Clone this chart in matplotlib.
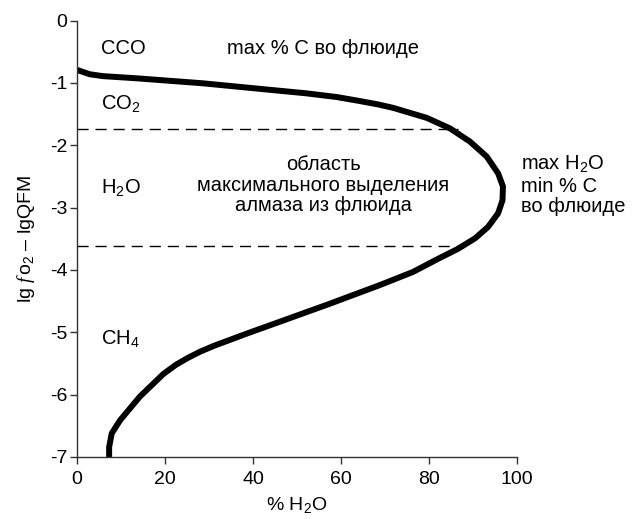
import numpy as np
import matplotlib
matplotlib.use("Agg")
import matplotlib.pyplot as plt

plt.rcParams['font.family'] = ['Liberation Sans', 'DejaVu Sans']
plt.rcParams['mathtext.fontset'] = 'custom'
plt.rcParams['mathtext.rm'] = 'Liberation Sans'
plt.rcParams['mathtext.it'] = 'Liberation Serif:italic'
plt.rcParams['mathtext.default'] = 'rm'

# кривая: % H2O против lg fO2 - lgQFM (точки)
h2o = [0, 2.9, 5.9, 13.6, 28.6, 43.9, 52, 59, 64.3, 68.5, 71.9, 79.5, 84.8, 89.3, 93.1,
       95.7, 96.8, 96.7, 95.7, 93.4, 90.5, 86.6, 81.8, 76.4, 68.9, 57.5, 46.1, 38.6, 31,
       28, 25.2, 22.5, 19.6, 14.3, 9.8, 7.9, 7.3, 7.3]
lgfo2 = [-0.79, -0.86, -0.89, -0.925, -1.005, -1.11, -1.165, -1.225, -1.29, -1.345, -1.40,
         -1.56, -1.73, -1.94, -2.18, -2.45, -2.66, -2.88, -3.09, -3.31, -3.49, -3.66, -3.83,
         -4.03, -4.24, -4.54, -4.83, -5.02, -5.22, -5.31, -5.41, -5.52, -5.67, -6.03, -6.41,
         -6.62, -6.84, -7.0]

# пунктирные границы области
dash_y = [-1.74, -3.62]
dash_x_end = [86.5, 87.8]

xticks = [0, 20, 40, 60, 80, 100]
yticks = [0, -1, -2, -3, -4, -5, -6, -7]

fig = plt.figure(figsize=(6.38, 5.19), dpi=100)
ax = fig.add_axes([0.1207, 0.1195, 0.6897, 0.8407])

ax.plot(h2o, lgfo2, color='black', lw=4.3, solid_capstyle='butt', solid_joinstyle='round')
for y, xe in zip(dash_y, dash_x_end):
    ax.plot([0, xe], [y, y], color='black', lw=1.0, dashes=(8, 5))

ax.set_xlim(0, 100)
ax.set_ylim(-7, 0)
ax.set_xticks(xticks)
ax.set_yticks(yticks)
ax.set_yticklabels([str(v) for v in yticks])
for s in ['top', 'right']:
    ax.spines[s].set_visible(False)
for s in ['left', 'bottom']:
    ax.spines[s].set_linewidth(1.0)
    ax.spines[s].set_color('#333333')
ax.tick_params(direction='out', length=5, width=1.0, color='#333333', labelsize=14)
ax.tick_params(axis='x', pad=5)
ax.tick_params(axis='y', pad=2)

ax.set_xlabel('% H$_2$O', fontsize=14, labelpad=5)
ax.set_ylabel('lg $\\mathit{f}\\,\\mathrm{o}_2$ – lgQFM', fontsize=14, labelpad=9)

fs = 14.5
ax.text(5.5, -0.44, 'CCO', fontsize=fs, va='center', ha='left')
ax.text(56, -0.44, 'max % C во флюиде', fontsize=fs, va='center', ha='center')
ax.text(5.5, -1.35, 'CO$_2$', fontsize=fs, va='center', ha='left')
ax.text(5.5, -2.69, 'H$_2$O', fontsize=fs, va='center', ha='left')
ax.text(5.5, -5.11, 'CH$_4$', fontsize=fs, va='center', ha='left')
ax.text(56, -2.64, 'область\nмаксимального выделения\nалмаза из флюида', fontsize=fs,
        va='center', ha='center', linespacing=1.1)
ax.text(101, -2.64, 'max H$_2$O\nmin % C\nво флюиде', fontsize=fs,
        va='center', ha='left', linespacing=1.1, clip_on=False)

fig.savefig('out.png', dpi=100)
